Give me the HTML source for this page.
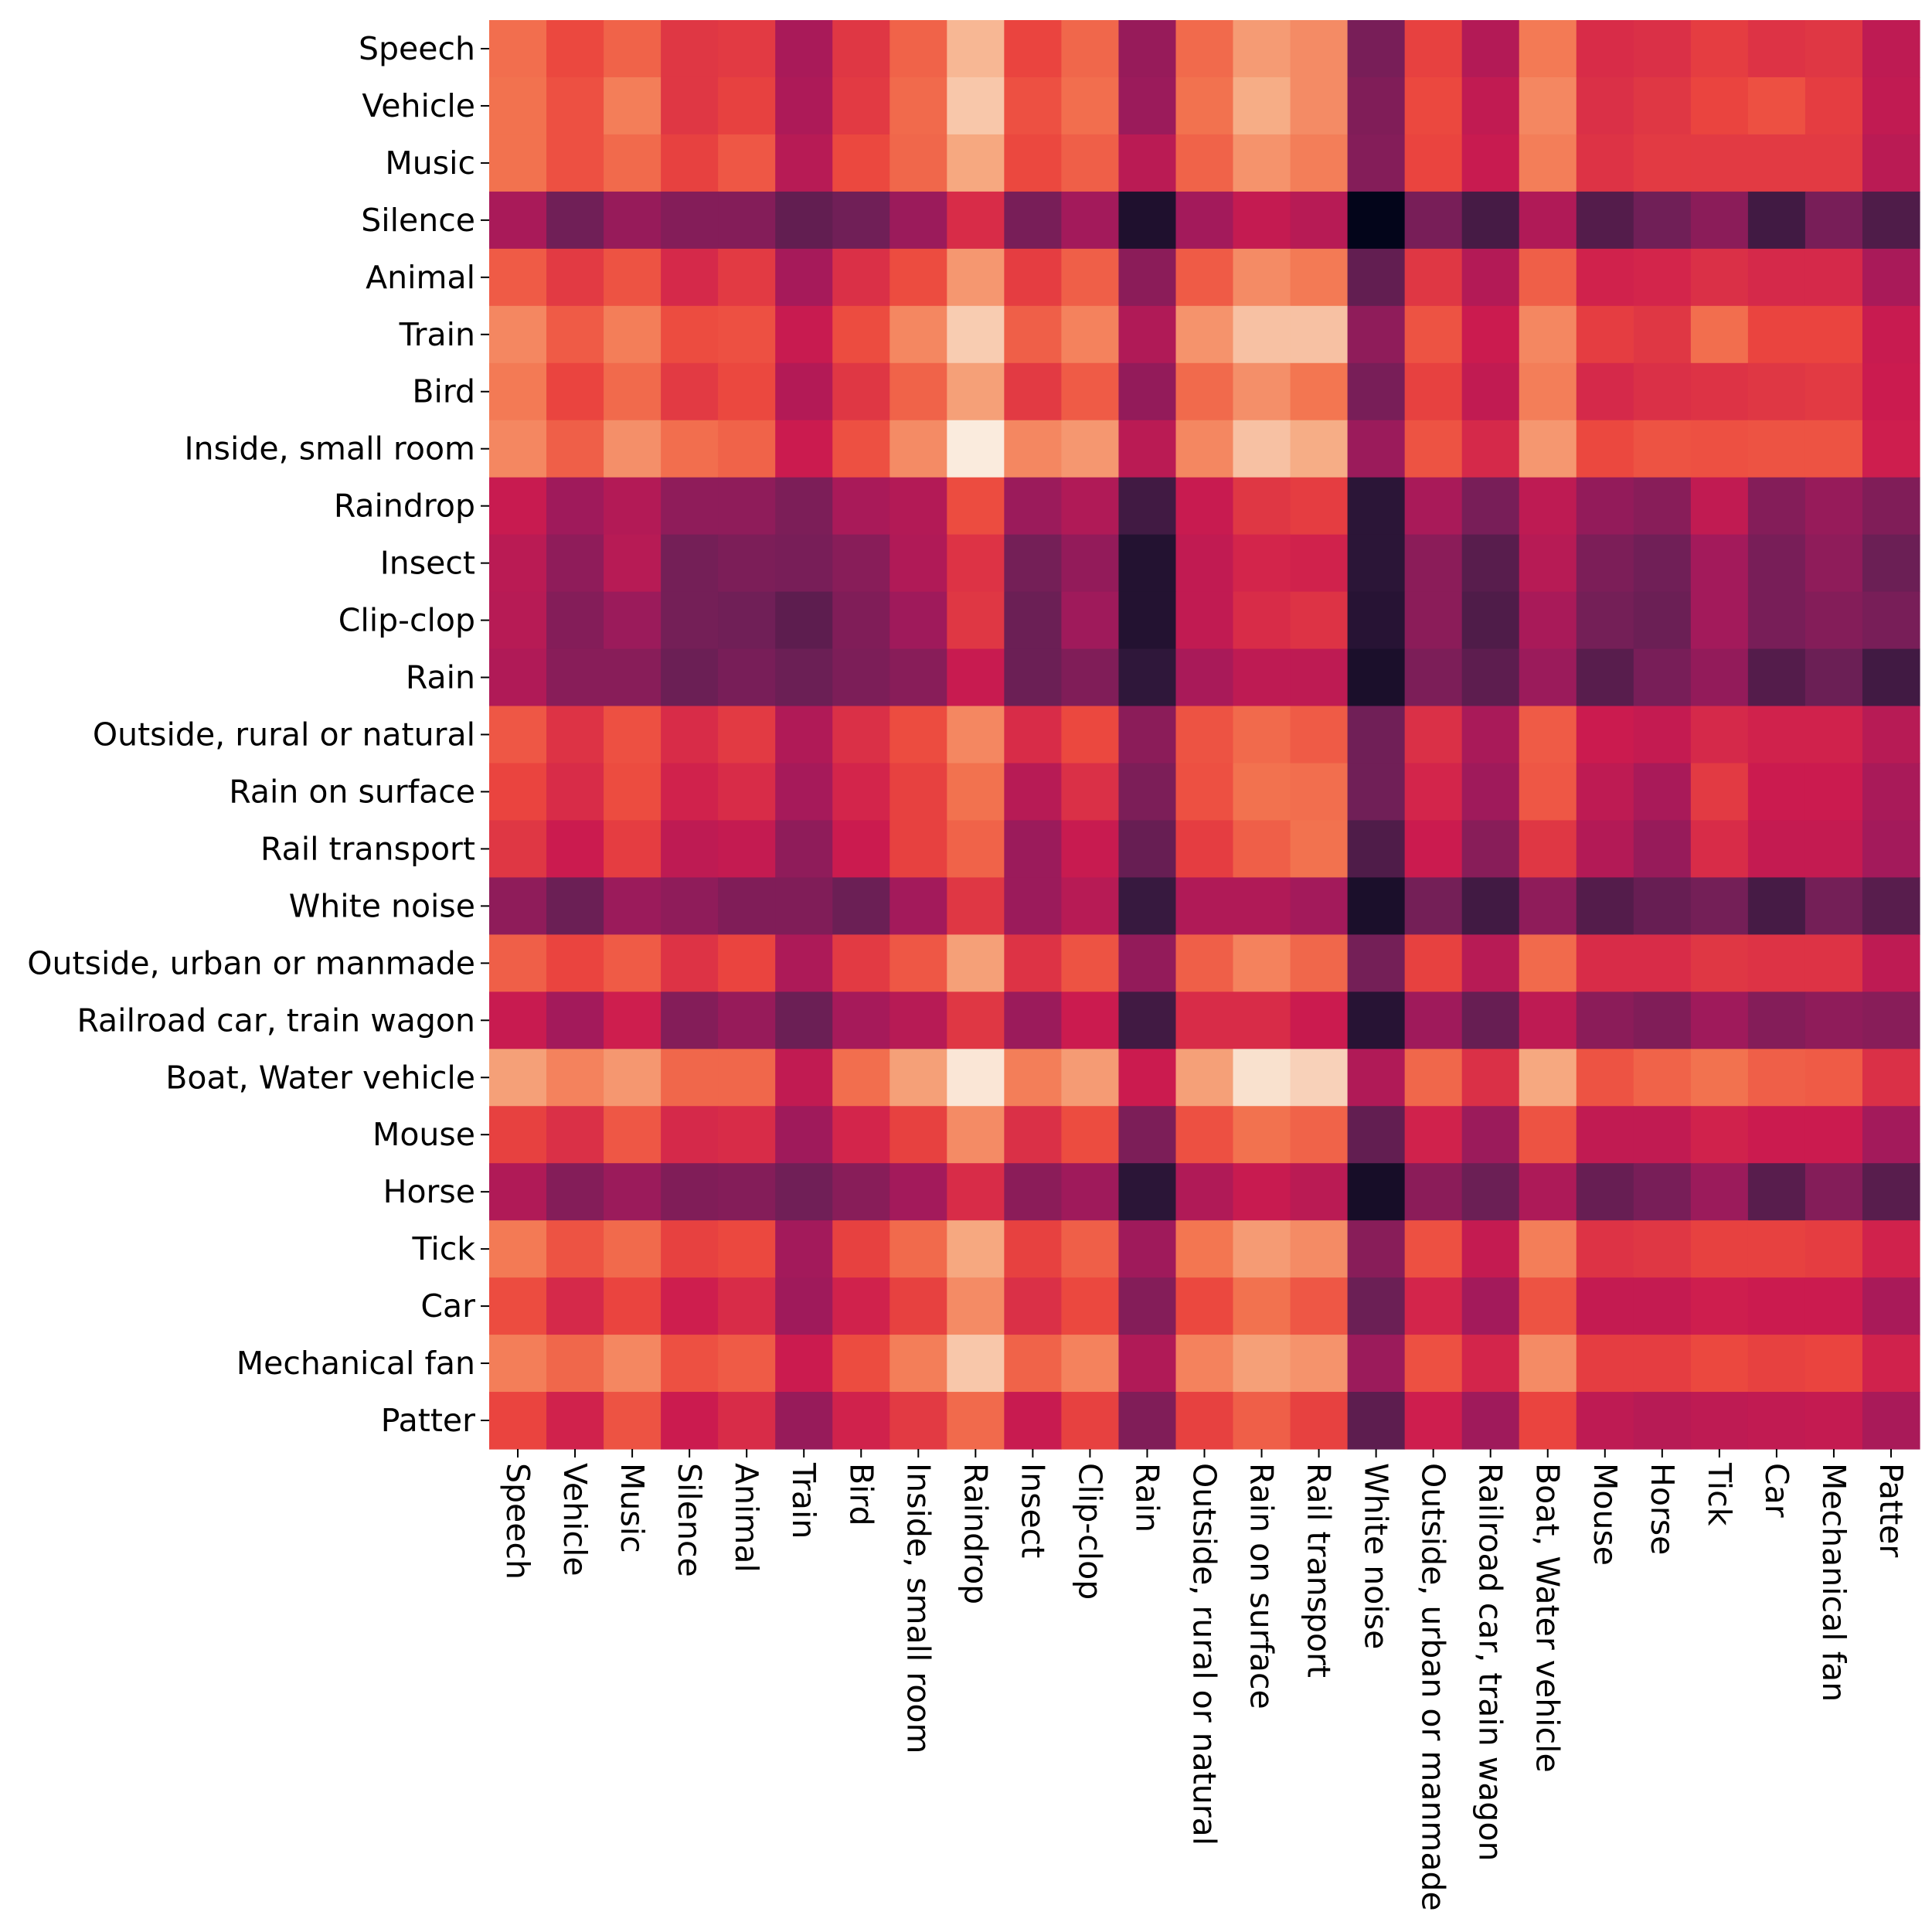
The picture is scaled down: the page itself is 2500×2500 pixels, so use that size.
<!DOCTYPE html>
<html><head><meta charset="utf-8"><style>
html,body{margin:0;padding:0;background:#fff;}
svg{display:block;}
text{font-family:"DejaVu Sans","Liberation Sans",sans-serif;font-size:41px;fill:#000;}
</style></head><body>
<svg id="chart" width="2500" height="2500" viewBox="0 0 2500 2500" xmlns="http://www.w3.org/2000/svg">
<g id="cells"></g>
<g id="ylabels"></g>
<g id="xlabels"></g>
</svg>
<script>
const categories = ["Speech","Vehicle","Music","Silence","Animal","Train","Bird","Inside, small room","Raindrop","Insect","Clip-clop","Rain","Outside, rural or natural","Rain on surface","Rail transport","White noise","Outside, urban or manmade","Railroad car, train wagon","Boat, Water vehicle","Mouse","Horse","Tick","Car","Mechanical fan","Patter"];
const rowSpeech=[.73,.63,.70,.58,.59,.40,.58,.70,.90,.62,.71,.35,.72,.84,.80,.27,.61,.43,.76,.55,.56,.60,.57,.58,.46];
const rowVehicle=[.74,.65,.77,.58,.61,.41,.59,.72,.93,.65,.73,.36,.74,.88,.80,.29,.63,.47,.79,.56,.58,.62,.65,.60,.47];
const rowMusic=[.74,.65,.72,.61,.67,.44,.63,.71,.87,.63,.69,.45,.70,.82,.77,.30,.62,.49,.77,.57,.59,.59,.59,.59,.45];
const rowSilence=[.40,.25,.35,.30,.30,.22,.25,.36,.55,.27,.38,.07,.38,.48,.44,.0,.27,.16,.42,.19,.25,.32,.15,.27,.18];
const rowAnimal=[.68,.59,.66,.54,.59,.39,.56,.64,.83,.60,.69,.32,.68,.80,.76,.22,.58,.43,.69,.52,.53,.56,.54,.54,.40];
const rowTrain=[.79,.68,.77,.64,.65,.49,.64,.79,.94,.69,.78,.42,.82,.92,.92,.33,.66,.50,.79,.60,.58,.73,.62,.62,.49];
const rowBird=[.76,.62,.72,.59,.63,.43,.58,.70,.85,.59,.68,.34,.72,.81,.75,.27,.61,.47,.77,.54,.56,.57,.58,.59,.50];
const rowInside=[.79,.69,.81,.73,.70,.50,.65,.80,1.0,.79,.83,.45,.79,.92,.88,.36,.66,.54,.83,.63,.66,.65,.66,.66,.51];
const rowRaindrop=[.49,.37,.43,.33,.33,.28,.40,.43,.64,.36,.42,.15,.49,.58,.60,.10,.40,.27,.46,.34,.31,.47,.30,.35,.29];
const rowInsect=[.45,.33,.44,.26,.28,.27,.31,.42,.57,.26,.34,.08,.47,.53,.52,.10,.32,.20,.44,.28,.25,.38,.27,.33,.24];
const rowClipclop=[.44,.30,.36,.26,.25,.21,.29,.37,.58,.24,.37,.08,.47,.55,.57,.09,.32,.18,.40,.26,.24,.38,.27,.30,.27];
const rowRain=[.42,.31,.31,.24,.27,.24,.28,.31,.49,.24,.29,.11,.40,.46,.46,.06,.28,.21,.36,.20,.27,.34,.19,.24,.15];
const rowOutRural=[.67,.57,.65,.55,.59,.42,.56,.64,.79,.55,.63,.32,.66,.72,.68,.25,.56,.40,.68,.50,.48,.54,.52,.52,.44];
const rowRainSurf=[.62,.55,.64,.52,.55,.39,.53,.61,.74,.44,.56,.28,.65,.74,.73,.25,.53,.37,.67,.46,.40,.59,.50,.50,.40];
const rowRailTr=[.58,.50,.60,.46,.48,.33,.50,.61,.70,.36,.49,.23,.60,.69,.74,.18,.50,.31,.58,.43,.35,.55,.48,.48,.38];
const rowWhiteNoise=[.33,.24,.36,.33,.29,.29,.24,.38,.58,.36,.44,.13,.42,.42,.38,.06,.26,.15,.33,.19,.23,.26,.16,.26,.20];
const rowOutUrban=[.69,.62,.68,.57,.62,.41,.59,.67,.85,.57,.66,.34,.69,.78,.71,.26,.61,.44,.72,.55,.55,.58,.57,.57,.46];
const rowRailCar=[.49,.38,.51,.30,.35,.24,.39,.44,.58,.36,.50,.15,.55,.55,.50,.09,.37,.23,.46,.32,.29,.37,.30,.33,.31];
const rowBoat=[.85,.78,.83,.71,.71,.47,.73,.85,.99,.77,.84,.50,.85,.98,.95,.42,.71,.56,.87,.66,.70,.74,.69,.68,.56];
const rowMouse=[.61,.56,.67,.54,.55,.37,.53,.61,.80,.56,.64,.28,.65,.74,.70,.22,.52,.36,.66,.47,.47,.52,.50,.50,.38];
const rowHorse=[.42,.30,.36,.29,.30,.25,.31,.38,.55,.32,.37,.10,.42,.49,.45,.05,.32,.24,.41,.23,.27,.36,.20,.30,.20];
const rowTick=[.76,.66,.72,.61,.63,.38,.61,.72,.87,.61,.69,.37,.75,.84,.80,.31,.65,.48,.77,.57,.58,.61,.61,.60,.52];
const rowCar=[.64,.54,.62,.51,.55,.37,.52,.61,.80,.56,.63,.30,.63,.74,.67,.24,.53,.38,.66,.48,.48,.51,.50,.50,.40];
const rowMechFan=[.77,.71,.79,.65,.68,.50,.64,.77,.93,.70,.78,.42,.78,.85,.82,.36,.65,.53,.80,.60,.60,.63,.61,.62,.52];
const rowPatter=[.62,.52,.66,.50,.55,.35,.52,.59,.72,.49,.61,.29,.61,.69,.61,.21,.51,.37,.62,.46,.44,.46,.47,.48,.40];
const values=[rowSpeech,rowVehicle,rowMusic,rowSilence,rowAnimal,rowTrain,rowBird,rowInside,rowRaindrop,rowInsect,rowClipclop,rowRain,rowOutRural,rowRainSurf,rowRailTr,rowWhiteNoise,rowOutUrban,rowRailCar,rowBoat,rowMouse,rowHorse,rowTick,rowCar,rowMechFan,rowPatter];

const L=633,T=26,R=2484,B=1875;
const n=categories.length;
const cw=(R-L)/n, ch=(B-T)/n;
const xScale=i=>L+i*cw, yScale=j=>T+j*ch;
const stops=[[0,"#03051A"],[.125,"#35193E"],[.25,"#701F57"],[.375,"#A11A5B"],[.5,"#CB1B4F"],[.625,"#EB463E"],[.75,"#F37651"],[.875,"#F6AA82"],[1,"#FAEBDD"]];
function hex(h){return [1,3,5].map(k=>parseInt(h.substr(k,2),16));}
function color(v){v=Math.max(0,Math.min(1,v));for(let k=1;k<stops.length;k++){if(v<=stops[k][0]){const a=stops[k-1],b=stops[k];const t=(v-a[0])/(b[0]-a[0]);const ca=hex(a[1]),cb=hex(b[1]);return "rgb("+ca.map((c,i)=>Math.round(c+(cb[i]-c)*t)).join(",")+")";}}return stops[stops.length-1][1];}
const NS="http://www.w3.org/2000/svg";
const cells=document.getElementById("cells");
values.forEach((row,j)=>row.forEach((v,i)=>{
  const r=document.createElementNS(NS,"rect");
  r.setAttribute("x",xScale(i));r.setAttribute("y",yScale(j));
  r.setAttribute("width",cw+0.6);r.setAttribute("height",ch+0.6);
  r.setAttribute("fill",color(v));
  
  
  cells.appendChild(r);
}));
const yl=document.getElementById("ylabels"), xl=document.getElementById("xlabels");
categories.forEach((c,j)=>{
  const cy=yScale(j)+ch/2;
  const tk=document.createElementNS(NS,"line");
  tk.setAttribute("x1",L-11);tk.setAttribute("x2",L);tk.setAttribute("y1",cy);tk.setAttribute("y2",cy);tk.setAttribute("stroke","#000");tk.setAttribute("stroke-width","2");
  
  
  yl.appendChild(tk);
  const t=document.createElementNS(NS,"text");
  t.setAttribute("x",L-18);t.setAttribute("y",cy);t.setAttribute("text-anchor","end");t.setAttribute("dominant-baseline","central");
  t.textContent=c;
  
  
  yl.appendChild(t);
});
categories.forEach((c,i)=>{
  const cx=xScale(i)+cw/2;
  const tk=document.createElementNS(NS,"line");
  tk.setAttribute("x1",cx);tk.setAttribute("x2",cx);tk.setAttribute("y1",B);tk.setAttribute("y2",B+11);tk.setAttribute("stroke","#000");tk.setAttribute("stroke-width","2");
  
  
  xl.appendChild(tk);
  const t=document.createElementNS(NS,"text");
  t.setAttribute("transform","translate("+cx+","+(B+18)+") rotate(90)");
  t.setAttribute("text-anchor","start");t.setAttribute("dominant-baseline","central");
  t.textContent=c;
  
  
  xl.appendChild(t);
});
</script>
</body></html>
